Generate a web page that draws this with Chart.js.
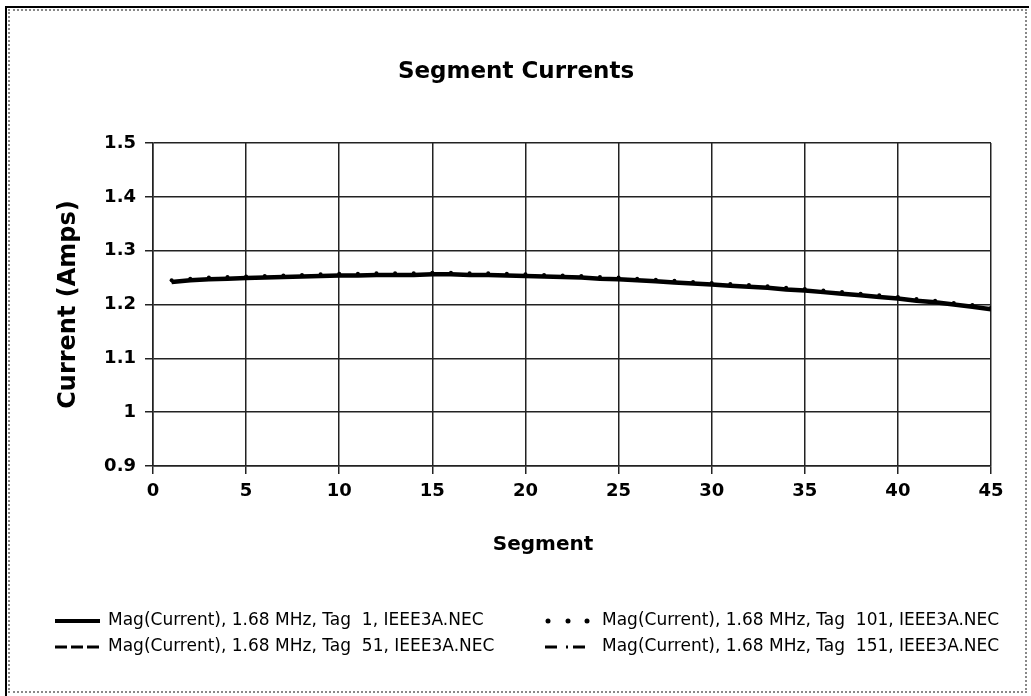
<!DOCTYPE html>
<html>
<head>
<meta charset="utf-8">
<script src="https://cdn.jsdelivr.net/npm/chart.js@4.4.1/dist/chart.umd.min.js"></script>
<style>
html, body { margin: 0; padding: 0; background: #fff; }
#wrap { position: relative; width: 1031px; height: 696px; overflow: hidden; background: #fff; }
#frame1 { position: absolute; left: 5px; top: 6px; width: 1022px; height: 688px; border-left: 2px solid #000; border-top: 2px solid #000; }
#frame2 { position: absolute; left: 8px; top: 9px; width: 1015px; height: 680px; border: 2px dotted #888; }
canvas { position: absolute; left: 0; top: 0; }
</style>
</head>
<body>
<div id="wrap">
  <div id="frame1"></div>
  <div id="frame2"></div>
  <canvas id="c" width="1031" height="696"></canvas>
</div>
<script>
// ---- data ----
const segments = [1,2,3,4,5,6,7,8,9,10,11,12,13,14,15,16,17,18,19,20,21,22,23,24,25,26,27,28,29,30,31,32,33,34,35,36,37,38,39,40,41,42,43,44,45];
const tag1   = [1.242,1.245,1.247,1.248,1.249,1.250,1.251,1.252,1.253,1.254,1.254,1.255,1.255,1.255,1.256,1.256,1.255,1.255,1.254,1.253,1.252,1.251,1.250,1.248,1.247,1.245,1.243,1.241,1.239,1.237,1.235,1.233,1.231,1.228,1.226,1.223,1.220,1.217,1.214,1.211,1.207,1.204,1.200,1.196,1.191];
const tag51  = [1.242,1.245,1.247,1.248,1.249,1.250,1.251,1.252,1.253,1.254,1.254,1.255,1.255,1.255,1.256,1.256,1.255,1.255,1.254,1.253,1.252,1.251,1.250,1.248,1.247,1.245,1.243,1.241,1.239,1.237,1.235,1.233,1.231,1.228,1.226,1.223,1.220,1.217,1.214,1.211,1.207,1.204,1.200,1.196,1.191];
const tag101 = [1.245,1.248,1.250,1.251,1.252,1.253,1.254,1.255,1.256,1.257,1.257,1.258,1.258,1.258,1.259,1.259,1.258,1.258,1.257,1.256,1.255,1.254,1.253,1.251,1.250,1.248,1.246,1.244,1.242,1.240,1.238,1.236,1.234,1.231,1.229,1.226,1.223,1.220,1.217,1.214,1.210,1.207,1.203,1.199,1.194];
const tag151 = [1.242,1.245,1.247,1.248,1.249,1.250,1.251,1.252,1.253,1.254,1.254,1.255,1.255,1.255,1.256,1.256,1.255,1.255,1.254,1.253,1.252,1.251,1.250,1.248,1.247,1.245,1.243,1.241,1.239,1.237,1.235,1.233,1.231,1.228,1.226,1.223,1.220,1.217,1.214,1.211,1.207,1.204,1.200,1.196,1.191];
const seriesLabels = [
  'Mag(Current), 1.68 MHz, Tag  1, IEEE3A.NEC',
  'Mag(Current), 1.68 MHz, Tag  51, IEEE3A.NEC',
  'Mag(Current), 1.68 MHz, Tag  101, IEEE3A.NEC',
  'Mag(Current), 1.68 MHz, Tag  151, IEEE3A.NEC'
];
const xTickValues = [0,5,10,15,20,25,30,35,40,45];
const xTickLabels = ['0','5','10','15','20','25','30','35','40','45'];
const yTickValues = [0.9,1.0,1.1,1.2,1.3,1.4,1.5];
const yTickLabels = ['0.9','1','1.1','1.2','1.3','1.4','1.5'];
const chartTitle = 'Segment Currents';
const xTitle = 'Segment';
const yTitle = 'Current (Amps)';

const pts = arr => segments.map((s, i) => ({ x: s, y: arr[i] }));
const lookup = (vals, labels, v) => {
  for (let i = 0; i < vals.length; i++) if (Math.abs(vals[i] - v) < 1e-6) return labels[i];
  return '';
};

const FONT = 'DejaVu Sans';

// x-axis title, placed where the original puts it (slightly left of the plot centre)
const xTitlePlugin = {
  id: 'xTitle',
  afterDraw(chart) {
    const ctx = chart.ctx;
    ctx.save();
    ctx.fillStyle = '#000';
    ctx.font = 'bold 20px "' + FONT + '"';
    ctx.textAlign = 'center';
    ctx.textBaseline = 'middle';
    ctx.fillText(xTitle, 543, 545);
    ctx.restore();
  }
};

const legendPlugin = {
  id: 'bottomLegend',
  afterDraw(chart) {
    const ctx = chart.ctx;
    const cols = [{ x0: 55, x1: 100, tx: 108 }, { x0: 545, x1: 588, tx: 602 }];
    const rows = [621, 647];
    chart.data.datasets.forEach((ds, i) => {
      const c = cols[Math.floor(i / 2)];
      const y = rows[i % 2];
      ctx.save();
      ctx.strokeStyle = '#000';
      ctx.fillStyle = '#000';
      if (ds.legendKind === 'dots') {
        [c.x0 + 3, c.x0 + 23, c.x1 - 1].forEach(x => {
          ctx.beginPath(); ctx.arc(x, y, 2.5, 0, Math.PI * 2); ctx.fill();
        });
      } else {
        ctx.lineWidth = ds.legendWidth;
        ctx.setLineDash(ds.legendDash || []);
        ctx.beginPath(); ctx.moveTo(c.x0, y); ctx.lineTo(c.x1, y); ctx.stroke();
      }
      ctx.setLineDash([]);
      ctx.font = '17px "' + FONT + '"';
      ctx.textBaseline = 'middle';
      ctx.textAlign = 'left';
      ctx.fillText(ds.label, c.tx, y);
      ctx.restore();
    });
  }
};

new Chart(document.getElementById('c'), {
  type: 'line',
  data: {
    datasets: [
      { label: seriesLabels[0], data: pts(tag1), borderColor: '#000', borderWidth: 4.5, pointRadius: 0, fill: false, legendWidth: 4 },
      { label: seriesLabels[1], data: pts(tag51), borderColor: '#000', borderWidth: 2, borderDash: [12, 4], pointRadius: 0, fill: false, legendWidth: 3, legendDash: [12, 4] },
      { label: seriesLabels[2], data: pts(tag101), borderColor: '#000', showLine: false, pointRadius: 2, pointBorderWidth: 0, pointBackgroundColor: '#000', legendKind: 'dots' },
      { label: seriesLabels[3], data: pts(tag151), borderColor: '#000', borderWidth: 2, borderDash: [12, 5, 2, 5], pointRadius: 0, fill: false, legendWidth: 3, legendDash: [12, 9, 2, 5] }
    ]
  },
  options: {
    responsive: false,
    animation: false,
    events: [],
    layout: { padding: { left: 41, right: 40, top: 0, bottom: 136 } },
    plugins: {
      legend: { display: false },
      tooltip: { enabled: false },
      title: {
        display: true, text: chartTitle, color: '#000',
        font: { family: FONT, size: 23, weight: 'bold' },
        padding: { top: 58, bottom: 57.4 }
      }
    },
    scales: {
      x: {
        type: 'linear', min: 0, max: 45,
        afterBuildTicks(s) { s.ticks = xTickValues.map(v => ({ value: v })); },
        ticks: {
          color: '#000', padding: 7, maxRotation: 0, autoSkip: false,
          font: { family: FONT, size: 18, weight: 'bold' },
          callback: v => lookup(xTickValues, xTickLabels, v)
        },
        grid: { color: '#222', lineWidth: 1.5, tickLength: 8 },
        border: { color: '#222', width: 1.5 },
        afterFit(s) { s.height = 94; }
      },
      y: {
        type: 'linear', min: 0.9, max: 1.5,
        afterBuildTicks(s) { s.ticks = yTickValues.map(v => ({ value: v })); },
        ticks: {
          color: '#000', padding: 9,
          font: { family: FONT, size: 18, weight: 'bold' },
          callback: v => lookup(yTickValues, yTickLabels, v)
        },
        grid: { color: '#222', lineWidth: 1.5, tickLength: 8 },
        border: { color: '#222', width: 1.5 },
        title: {
          display: true, text: yTitle, color: '#000',
          font: { family: FONT, size: 24, weight: 'bold' },
          padding: { top: 13, bottom: 0 }
        },
        afterFit(s) { s.width = 112; }
      }
    }
  },
  plugins: [xTitlePlugin, legendPlugin]
});
</script>
</body>
</html>
